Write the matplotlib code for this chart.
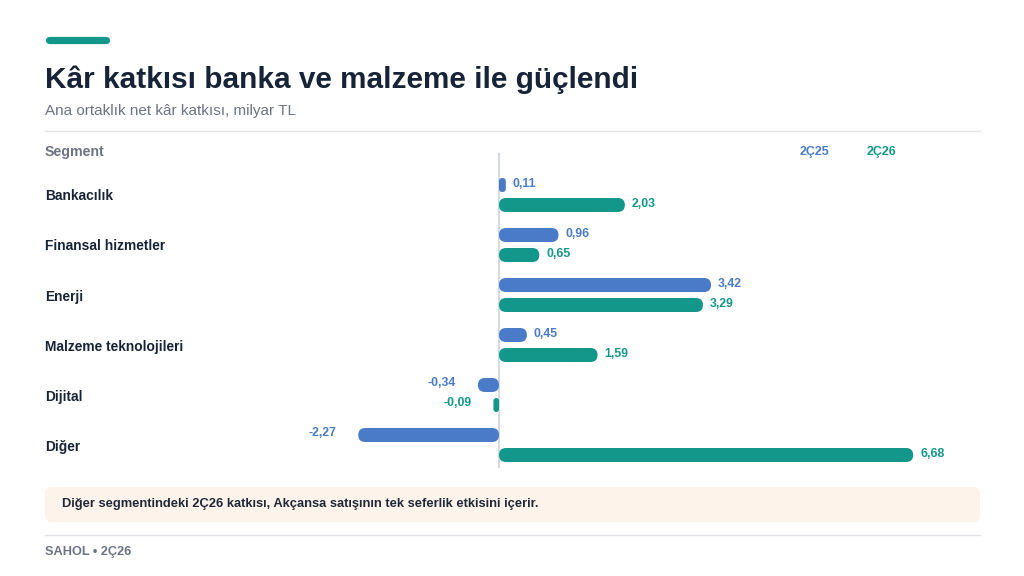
import matplotlib.pyplot as plt
from matplotlib.patches import FancyBboxPatch
from matplotlib.lines import Line2D
from matplotlib.transforms import blended_transform_factory

plt.rcParams['font.family'] = ['Liberation Sans', 'DejaVu Sans']

# Verinin kendisi
segments = ['Bankacılık', 'Finansal hizmetler', 'Enerji',
            'Malzeme teknolojileri', 'Dijital', 'Diğer']
q2_25 = [0.11, 0.96, 3.42, 0.45, -0.34, -2.27]
q2_26 = [2.03, 0.65, 3.29, 1.59, -0.09, 6.68]
series_names = ['2Ç25', '2Ç26']

BLUE = '#4a7bc8'
TEAL = '#12978a'
DARK = '#172437'
GRAY = '#6b7385'
LINE = '#e1e4e9'

W, H = 1024, 576
fig = plt.figure(figsize=(W / 100, H / 100), dpi=100)


def fx(x):
    return x / W


def fy(y):
    return 1 - y / H


# çizim alanı: sıfır çizgisi x=499 px, 62 px / birim, satır aralığı 50 px
ax = fig.add_axes([fx(45), fy(468), fx(980) - fx(45), (468 - 153) / H])
ax.set_xlim(-454 / 62, 481 / 62)
ax.set_ylim(5.46, -0.84)
ax.axis('off')
aspect = 62 / 50

ax.axvline(0, color='#d5dae2', lw=1.5, zorder=1)

bar_h = 0.28
for i in range(len(segments)):
    for vals, off, col in ((q2_25, -0.2, BLUE), (q2_26, 0.2, TEAL)):
        v = vals[i]
        w = abs(v)
        r = min(bar_h / 2 / aspect, w / 2)
        ax.add_patch(FancyBboxPatch((min(0, v), i + off - bar_h / 2), w, bar_h,
                                    boxstyle=f'round,pad=0,rounding_size={r}',
                                    mutation_aspect=aspect, fc=col, ec='none', zorder=2))
        lbl = f'{v:.2f}'.replace('.', ',')
        if v >= 0:
            ax.annotate(lbl, (v, i + off), xytext=(7, 1), textcoords='offset pixels',
                        ha='left', va='center', fontsize=8.8, fontweight='bold', color=col)
        else:
            ax.annotate(lbl, (v, i + off), xytext=(-22, 2), textcoords='offset pixels',
                        ha='right', va='center', fontsize=8.8, fontweight='bold', color=col)

# kategori etiketleri
tr = blended_transform_factory(fig.transFigure, ax.transData)
for i, s in enumerate(segments):
    ax.text(fx(45), i + 0.03, s, transform=tr, ha='left', va='center',
            fontsize=9.9, fontweight='bold', color=DARK)

# başlıklar
fig.add_artist(Line2D([fx(48.5), fx(105.5)], [fy(39.5)] * 2, lw=5.2, color=TEAL,
                      solid_capstyle='round', transform=fig.transFigure))
fig.text(fx(45), fy(88), 'Kâr katkısı banka ve malzeme ile güçlendi', ha='left',
         va='baseline', fontsize=21.4, fontweight='bold', color=DARK)
fig.text(fx(45), fy(115), 'Ana ortaklık net kâr katkısı, milyar TL', ha='left',
         va='baseline', fontsize=11, color=GRAY)
fig.add_artist(Line2D([fx(45), fx(980)], [fy(131)] * 2, lw=1, color=LINE,
                      transform=fig.transFigure))
fig.text(fx(45), fy(152), 'Segment', ha='left', va='center', fontsize=10.2,
         fontweight='bold', color=GRAY)
fig.text(fx(800), fy(152), series_names[0], ha='left', va='center', fontsize=9,
         fontweight='bold', color=BLUE)
fig.text(fx(867), fy(152), series_names[1], ha='left', va='center', fontsize=9,
         fontweight='bold', color=TEAL)

# not kutusu
fig.add_artist(FancyBboxPatch((fx(45), fy(522)), fx(980) - fx(45), (522 - 487) / H,
                              boxstyle=f'round,pad=0,rounding_size={7 / W}',
                              mutation_aspect=W / H, fc='#fdf3eb', ec='none',
                              transform=fig.transFigure))
fig.text(fx(62), fy(504), 'Diğer segmentindeki 2Ç26 katkısı, Akçansa satışının tek seferlik etkisini içerir.',
         ha='left', va='center', fontsize=9.3, fontweight='bold', color='#1f2937')
fig.add_artist(Line2D([fx(45), fx(980)], [fy(535)] * 2, lw=1, color=LINE,
                      transform=fig.transFigure))
fig.text(fx(45), fy(552), 'SAHOL • 2Ç26', ha='left', va='center', fontsize=9.2,
         fontweight='bold', color=GRAY)

fig.savefig('out.png', dpi=100, facecolor='white')
